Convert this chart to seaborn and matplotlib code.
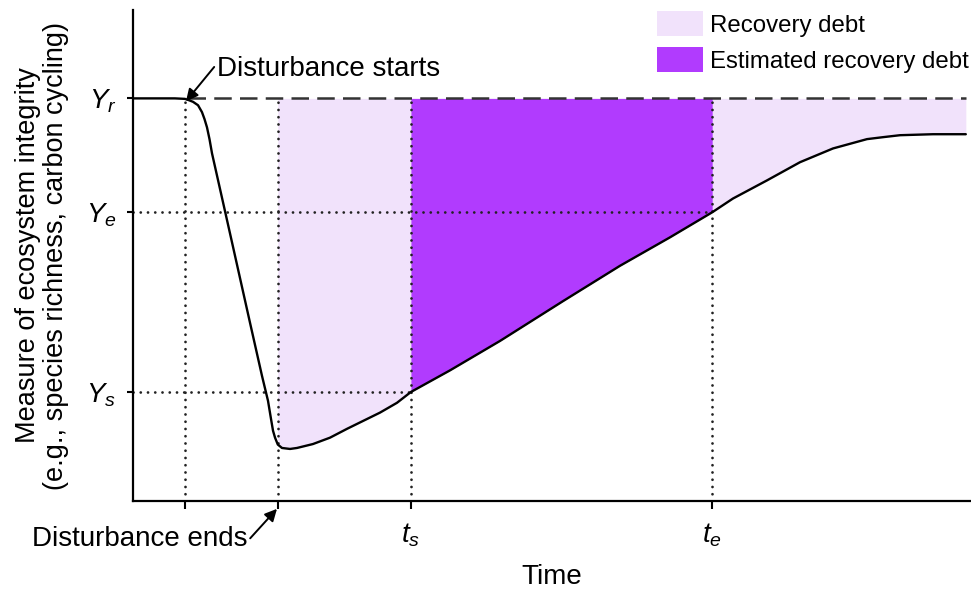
import numpy as np
import matplotlib
matplotlib.use("Agg")
import matplotlib.pyplot as plt
import seaborn as sns
from matplotlib.patches import Patch

# recovery curve (time, integrity), arbitrary units 0-100
time = [0, 5.0, 6.2, 6.57, 7.17, 7.77, 8.24, 8.54, 8.84, 9.14, 9.44, 11.59, 13.98,
        15.41, 16.13, 16.49, 16.73, 16.97, 17.3, 17.8, 18.76, 19.59, 21.5, 23.54,
        25.57, 27.48, 29.51, 31.54, 33.2, 37.87, 43.85, 51.37, 58.18, 64.16, 69.2,
        71.68, 75.75, 79.69, 83.63, 87.69, 89.61, 91.64, 95.58, 99.5]
integrity = [82, 82, 81.9, 81.7, 81.3, 80.6, 79.2, 77.8, 76.1, 73.7, 70.8, 54.5, 36.3,
             25.5, 20.4, 16.7, 14.3, 12.9, 11.5, 10.8, 10.6, 10.8, 11.6, 12.9,
             14.7, 16.3, 18.0, 20.0, 22.2, 26.6, 32.6, 40.7, 47.9, 53.7, 58.8,
             61.6, 65.3, 69.0, 71.8, 73.7, 74.1, 74.5, 74.7, 74.7]

t_start, t_end, t_s, t_e = 6.2, 17.3, 33.2, 69.2
y_r, y_e, y_s = 82.0, 58.8, 22.2

x_ticks = [t_start, t_end, t_s, t_e]
x_tick_labels = ["", "", "$t_s$", "$t_e$"]
y_ticks = [y_s, y_e, y_r]
y_tick_labels = ["$Y_s$", "$Y_e$", "$Y_r$"]

light = "#F1E2FB"
purple = "#B13BFE"
dot_col = "#222222"

sns.set_style("ticks")
plt.rcParams['font.family'] = ['Liberation Sans', 'DejaVu Sans']
plt.rcParams['mathtext.fontset'] = 'custom'
plt.rcParams['mathtext.it'] = 'Liberation Sans:italic'
plt.rcParams['mathtext.rm'] = 'Liberation Sans'
plt.rcParams['text.color'] = 'black'
plt.rcParams['axes.labelcolor'] = 'black'
plt.rcParams['lines.solid_joinstyle'] = 'round'

fig = plt.figure(figsize=(9.71, 5.90), dpi=100)
ax = fig.add_axes([133 / 971, 89 / 590, 837 / 971, 491 / 590])

t = np.array(time)
y = np.array(integrity)

# shaded debt areas
m1 = (t >= t_end) & (t <= t_s)
m2 = (t >= t_s) & (t <= t_e)
m3 = t >= t_e
ax.fill_between(t[m1], y[m1], y_r, color=light, lw=0, zorder=1)
ax.fill_between(t[m3], y[m3], y_r, color=light, lw=0, zorder=1)
ax.fill_between(t[m2], y[m2], y_r, color=purple, lw=0, zorder=1)

# dotted guides
dot = dict(color=dot_col, lw=2.0, dashes=(0.01, 2.6), dash_capstyle='round', zorder=2)
for xv in x_ticks:
  ax.plot([xv, xv], [0, y_r], **dot)
ax.plot([0, t_e], [y_e, y_e], **dot)
ax.plot([0, t_s], [y_s, y_s], **dot)

# reference level
ax.plot([6.6, 99.5], [y_r, y_r], color="#333333", lw=1.8, dashes=(7, 3.3), zorder=3)

sns.lineplot(x=time, y=integrity, ax=ax, color="black", lw=1.7, estimator=None, sort=False, zorder=4)

ax.set_xlim(0, 100)
ax.set_ylim(0, 100)
ax.set_xticks(x_ticks)
ax.set_xticklabels(x_tick_labels, fontsize=20)
ax.set_yticks(y_ticks)
ax.set_yticklabels(y_tick_labels, fontsize=20)
ax.tick_params(axis='x', length=5.5, width=1.5, pad=9, colors='black')
ax.tick_params(axis='y', length=4, width=1.5, pad=8, colors='black')
for s in ['left', 'bottom']:
  ax.spines[s].set_linewidth(1.6)
  ax.spines[s].set_color('black')
sns.despine(ax=ax)

ax.set_xlabel("Time", fontsize=20, labelpad=11)
ax.set_ylabel("Measure of ecosystem integrity\n(e.g., species richness, carbon cycling)",
              fontsize=19.5, labelpad=12, linespacing=1.1)

# annotations
arrow = dict(arrowstyle='-|>', color='black', lw=1.4, mutation_scale=18, shrinkA=0, shrinkB=0)
ax.annotate("", xy=(6.33, 81.4), xytext=(9.7, 88.4), arrowprops=arrow, annotation_clip=False)
ax.text(10.0, 86.5, "Disturbance starts", fontsize=20, ha='left', va='baseline')
ax.annotate("", xy=(17.2, -1.6), xytext=(14.0, -7.6), arrowprops=arrow, annotation_clip=False)
ax.text(-12.1, -9.2, "Disturbance ends", fontsize=20, ha='left', va='baseline', clip_on=False)

handles = [Patch(facecolor=light, edgecolor='none', label="Recovery debt"),
           Patch(facecolor=purple, edgecolor='none', label="Estimated recovery debt")]
ax.legend(handles=handles, loc='upper right', bbox_to_anchor=(1.0, 1.0), frameon=False,
          fontsize=17.3, handlelength=1.9, handleheight=1.2, handletextpad=0.3,
          labelspacing=0.45, borderaxespad=0.05, borderpad=0)

fig.savefig("out.png", dpi=100)
